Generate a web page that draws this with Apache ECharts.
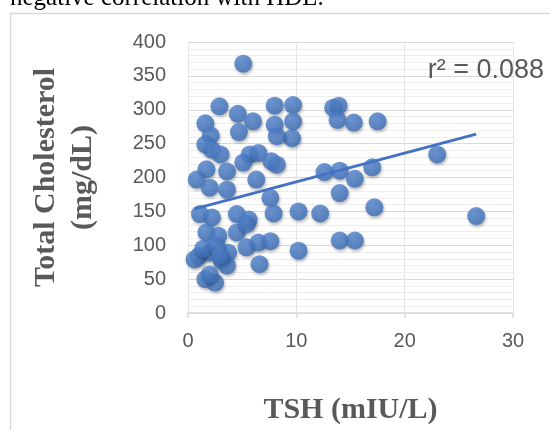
<!DOCTYPE html>
<html><head><meta charset="utf-8">
<script src="https://cdn.jsdelivr.net/npm/echarts@6/dist/echarts.min.js"></script>
<style>html,body{margin:0;padding:0;background:#fff}#c{width:550px;height:430px}</style>
</head><body><div id="c"></div>
<script>
const tshValues = [5.1,2.9,4.6,6.0,1.6,2.1,4.7,8.0,9.7,8.0,9.7,9.6,8.2,13.4,13.9,13.8,15.3,17.5,12.6,14.0,15.4,17.0,23.0,14.0,10.2,12.2,17.2,26.6,14.0,15.4,10.2,1.6,2.2,3.0,5.7,6.5,5.1,7.7,8.2,1.7,3.6,0.8,2.0,3.6,6.3,7.6,4.5,5.6,7.9,1.1,2.2,1.7,2.8,4.5,5.4,1.0,2.0,3.1,3.7,5.4,6.5,7.6,6.6,1.6,2.5,2.0,3.6,0.6,1.4,2.6,3.0];
const cholValues = [368,305,294,283,280,262,267,306,307,278,283,258,261,303,306,285,281,283,208,210,198,215,234,177,150,147,156,143,107,107,92,249,241,234,234,236,222,224,219,212,209,197,185,182,197,170,146,138,147,146,141,119,114,119,131,84,89,77,89,97,104,106,72,50,45,57,70,79,95,100,85];
const trendX = [0.6, 26.6];
const trendY = [153.7, 264];
const xTicks = [0, 10, 20, 30];
const yTicks = [0, 50, 100, 150, 200, 250, 300, 350, 400];
const r2Label = 'r² = 0.088';

const points = tshValues.map((x, i) => [x, cholValues[i]]);
const chart = echarts.init(document.getElementById('c'), null, {renderer: 'canvas'});
chart.setOption({
  animation: false,
  backgroundColor: '#fff',
  grid: {left: 188, right: 37, top: 42, bottom: 116, containLabel: false},
  graphic: [
    {type: 'rect', shape: {x: 10.5, y: 13.5, width: 600, height: 500}, style: {fill: 'none', stroke: '#d9d9d9', lineWidth: 1.5}, z: 0},
    {type: 'text', left: 10, top: -14, style: {text: 'negative correlation with HDL.', font: '25px "Liberation Serif"', fill: '#000'}},
    {type: 'text', right: 6, top: 57, style: {text: r2Label, font: '27px "Liberation Sans"', fill: '#595959'}, z: 10}
  ],
  xAxis: {
    type: 'value', min: xTicks[0], max: xTicks[xTicks.length - 1], interval: 10,
    name: 'TSH (mIU/L)', nameLocation: 'middle', nameGap: 82,
    nameTextStyle: {fontFamily: 'Liberation Serif', fontWeight: 'bold', fontSize: 30, color: '#595959'},
    axisLine: {show: true, lineStyle: {color: '#d9d9d9', width: 1.5}},
    axisTick: {show: true, inside: false, length: 5, lineStyle: {color: '#d9d9d9', width: 1.5}},
    axisLabel: {fontFamily: 'Liberation Sans', fontSize: 20, color: '#595959', margin: 18},
    splitLine: {show: true, lineStyle: {color: '#e6e6e6', width: 1}}
  },
  yAxis: {
    type: 'value', min: yTicks[0], max: yTicks[yTicks.length - 1], interval: 50,
    name: 'Total Cholesterol\n(mg/dL)', nameLocation: 'middle', nameGap: 86, nameRotate: 90,
    nameTextStyle: {fontFamily: 'Liberation Serif', fontWeight: 'bold', fontSize: 30, color: '#595959', lineHeight: 37},
    axisLine: {show: false},
    axisTick: {show: false},
    axisLabel: {fontFamily: 'Liberation Sans', fontSize: 20, color: '#595959', margin: 22},
    splitLine: {show: true, lineStyle: {color: '#d9d9d9', width: 1.2}},
    minorTick: {show: false, splitNumber: 5},
    minorSplitLine: {show: true, lineStyle: {color: '#eeeeee', width: 1}}
  },
  series: [
    {
      type: 'scatter', data: points, symbolSize: 18, z: 3,
      itemStyle: {
        color: {type: 'radial', x: 0.4, y: 0.35, r: 0.7, colorStops: [{offset: 0, color: '#5689d4'}, {offset: 1, color: '#3a6cb6'}]},
        shadowBlur: 3, shadowColor: 'rgba(0,0,0,0.35)', shadowOffsetY: 2, shadowOffsetX: 1
      }
    },
    {
      type: 'line', data: trendX.map((x, i) => [x, trendY[i]]), symbol: 'none', z: 4,
      lineStyle: {color: '#4472c4', width: 3}
    }
  ]
});
</script></body></html>
